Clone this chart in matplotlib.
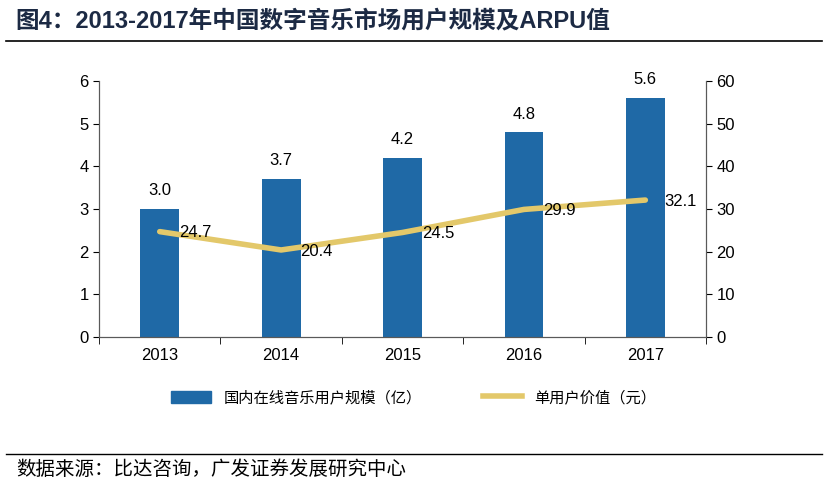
import matplotlib.pyplot as plt
from matplotlib.lines import Line2D
import numpy as np

plt.rcParams['font.family'] = ['Liberation Sans', 'Noto Sans CJK SC']

years = ['2013', '2014', '2015', '2016', '2017']
users = [3.0, 3.7, 4.2, 4.8, 5.6]
arpu = [24.7, 20.4, 24.5, 29.9, 32.1]

bar_color = '#1F69A6'
line_color = '#E3C86A'

fig = plt.figure(figsize=(8.28, 4.88), dpi=100)
ax = fig.add_axes([0.1196, 0.3094, 0.7331, 0.5246])
x = np.arange(len(years))
ax.bar(x, users, width=0.32, color=bar_color, zorder=2)
for xi, v in zip(x, users):
    ax.text(xi, v + 0.25, f'{v:.1f}', ha='center', va='bottom', fontsize=12)
ax.set_ylim(0, 6)
ax.set_xlim(-0.5, len(years) - 0.5)
ax.set_xticks(x)
ax.set_xticklabels(years)
ax.set_xticks(np.arange(-0.5, len(years)), minor=True)
ax.tick_params(axis='x', which='major', length=0, labelsize=12, pad=8)
ax.tick_params(axis='x', which='minor', length=5, direction='out')
ax.tick_params(axis='y', labelsize=12, length=4, direction='out')
ax.spines['top'].set_visible(False)
for s in ['left', 'bottom', 'right']:
    ax.spines[s].set_color('#595959')

ax2 = ax.twinx()
ax2.plot(x, arpu, color=line_color, lw=4, zorder=3, solid_capstyle='round')
for xi, v in zip(x, arpu):
    ax2.text(xi + 0.16, v - 0.3, f'{v:.1f}', ha='left', va='center', fontsize=12)
ax2.set_ylim(0, 60)
ax2.tick_params(axis='y', labelsize=12, length=4, direction='out')
ax2.spines['top'].set_visible(False)
for s in ['left', 'bottom', 'right']:
    ax2.spines[s].set_color('#595959')

handles = [plt.Rectangle((0, 0), 1, 1, color=bar_color),
           Line2D([0], [0], color=line_color, lw=4)]
fig.legend(handles, ['国内在线音乐用户规模（亿）', '单用户价值（元）'],
           loc='center', bbox_to_anchor=(0.5, 0.185), ncol=2, frameon=False,
           handlelength=2.6, handleheight=0.9, columnspacing=4,
           prop={'family': ['Noto Sans CJK SC'], 'size': 11})

fig.text(0.018, 0.955, '图4：2013-2017年中国数字音乐市场用户规模及ARPU值',
         fontsize=17, fontweight='bold', color='#1C2A44', va='center',
         family=['Liberation Sans', 'Noto Sans CJK SC'])
fig.add_artist(Line2D([0.007, 0.993], [0.915, 0.915], color='black', lw=1.2))
fig.add_artist(Line2D([0.007, 0.993], [0.07, 0.07], color='black', lw=1.0))
fig.text(0.02, 0.038, '数据来源：比达咨询，广发证券发展研究中心', fontsize=14,
         va='center', family=['Noto Sans CJK SC'])

fig.savefig('out.png', dpi=100)
